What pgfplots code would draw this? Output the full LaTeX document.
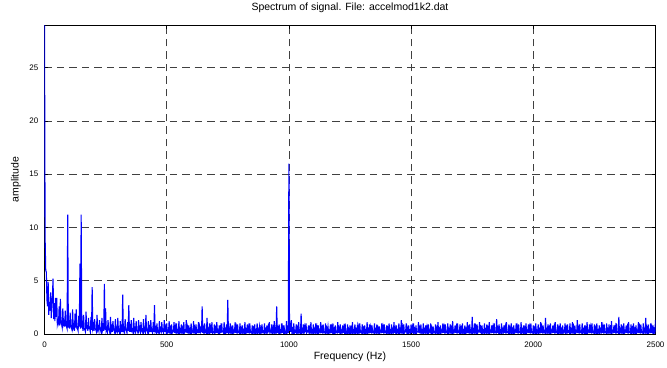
\documentclass[border=0pt]{standalone}
\usepackage{fontspec}
\setmainfont{Liberation Sans}
\usepackage{pgfplots}
\usepackage{pgfplotstable}
\pgfplotsset{compat=1.18}

% Amplitude spectrum, one value per 2.5 Hz bin from 0 Hz to 2500 Hz
% (each line holds 20 bins = 50 Hz)
\pgfplotstableread[row sep=\\, header=false]{
29.0\\ 9.0\\ 6.0\\ 5.8\\ 3.2\\ 2.6\\ 4.9\\ 1.8\\ 3.0\\ 2.2\\ 3.9\\ 1.5\\ 2.7\\ 3.6\\ 5.2\\ 1.4\\ 2.9\\ 1.2\\ 3.4\\ 1.6\\
3.4\\ 0.9\\ 1.2\\ 1.0\\ 2.6\\ 0.8\\ 3.3\\ 1.1\\ 0.9\\ 0.6\\ 2.4\\ 0.9\\ 1.1\\ 0.7\\ 2.2\\ 0.8\\ 0.7\\ 0.5\\ 11.2\\ 0.6\\
1.3\\ 0.5\\ 2.0\\ 0.7\\ 0.6\\ 0.4\\ 2.3\\ 0.6\\ 0.8\\ 0.3\\ 1.9\\ 0.6\\ 2.3\\ 0.5\\ 0.5\\ 0.3\\ 1.7\\ 0.7\\ 6.6\\ 0.5\\
11.2\\ 0.6\\ 0.9\\ 0.3\\ 1.8\\ 0.5\\ 0.4\\ 0.2\\ 2.1\\ 0.6\\ 0.7\\ 0.3\\ 1.5\\ 0.5\\ 0.5\\ 0.2\\ 1.6\\ 0.4\\ 4.4\\ 0.5\\
0.8\\ 0.3\\ 1.4\\ 0.5\\ 0.4\\ 0.2\\ 1.8\\ 0.4\\ 0.6\\ 0.3\\ 1.3\\ 0.5\\ 0.3\\ 0.1\\ 1.5\\ 0.4\\ 0.7\\ 0.3\\ 4.7\\ 0.4\\
2.4\\ 0.3\\ 0.5\\ 0.2\\ 1.3\\ 0.4\\ 0.4\\ 0.1\\ 1.6\\ 0.3\\ 0.6\\ 0.2\\ 1.2\\ 0.4\\ 0.3\\ 0.1\\ 1.4\\ 0.3\\ 0.5\\ 0.2\\
1.5\\ 0.3\\ 0.4\\ 0.1\\ 1.2\\ 0.3\\ 0.6\\ 0.2\\ 3.7\\ 0.3\\ 0.5\\ 0.2\\ 1.4\\ 0.4\\ 0.3\\ 0.1\\ 1.1\\ 0.3\\ 2.7\\ 0.2\\
0.6\\ 0.2\\ 1.3\\ 0.3\\ 0.4\\ 0.1\\ 1.5\\ 0.3\\ 0.5\\ 0.2\\ 1.2\\ 0.3\\ 0.3\\ 0.1\\ 1.3\\ 0.4\\ 0.6\\ 0.2\\ 1.1\\ 0.3\\
0.4\\ 0.1\\ 1.4\\ 0.3\\ 0.5\\ 0.2\\ 1.8\\ 0.3\\ 0.3\\ 0.1\\ 1.2\\ 0.3\\ 0.6\\ 0.2\\ 1.3\\ 0.3\\ 0.4\\ 0.1\\ 1.1\\ 0.2\\
2.7\\ 0.3\\ 0.5\\ 0.1\\ 1.0\\ 0.2\\ 0.3\\ 0.1\\ 1.2\\ 0.3\\ 0.5\\ 0.2\\ 1.1\\ 0.3\\ 0.4\\ 0.1\\ 1.3\\ 0.2\\ 0.6\\ 0.2\\
1.0\\ 0.1\\ 0.3\\ 0.2\\ 1.2\\ 0.05\\ 0.5\\ 0.15\\ 0.9\\ 0.1\\ 0.2\\ 0.2\\ 1.1\\ 0.1\\ 0.6\\ 0.05\\ 1.0\\ 0.15\\ 0.3\\ 0.1\\
1.2\\ 0.1\\ 0.4\\ 0.2\\ 0.9\\ 0.05\\ 0.5\\ 0.15\\ 1.1\\ 0.1\\ 0.2\\ 0.2\\ 1.3\\ 0.1\\ 0.6\\ 0.05\\ 0.8\\ 0.15\\ 0.4\\ 0.1\\
1.0\\ 0.1\\ 0.3\\ 0.2\\ 1.2\\ 0.05\\ 0.5\\ 0.15\\ 0.9\\ 0.1\\ 0.3\\ 0.2\\ 1.1\\ 0.1\\ 0.6\\ 0.05\\ 0.7\\ 0.15\\ 2.6\\ 0.1\\
0.5\\ 0.1\\ 1.0\\ 0.2\\ 0.3\\ 0.05\\ 1.5\\ 0.15\\ 0.4\\ 0.1\\ 1.0\\ 0.2\\ 0.6\\ 0.1\\ 1.1\\ 0.05\\ 0.2\\ 0.15\\ 0.9\\ 0.1\\
0.5\\ 0.1\\ 1.1\\ 0.2\\ 0.3\\ 0.05\\ 0.8\\ 0.15\\ 0.6\\ 0.1\\ 1.0\\ 0.2\\ 0.2\\ 0.1\\ 1.1\\ 0.05\\ 0.4\\ 0.15\\ 0.9\\ 0.1\\
3.2\\ 0.1\\ 0.4\\ 0.2\\ 1.0\\ 0.05\\ 0.5\\ 0.15\\ 0.8\\ 0.1\\ 0.3\\ 0.2\\ 1.1\\ 0.1\\ 0.6\\ 0.05\\ 0.9\\ 0.15\\ 0.2\\ 0.1\\
1.0\\ 0.1\\ 0.5\\ 0.2\\ 0.8\\ 0.05\\ 0.3\\ 0.15\\ 1.1\\ 0.1\\ 0.4\\ 0.2\\ 0.9\\ 0.1\\ 0.6\\ 0.05\\ 1.0\\ 0.15\\ 0.2\\ 0.1\\
0.8\\ 0.1\\ 0.5\\ 0.2\\ 0.9\\ 0.05\\ 0.3\\ 0.15\\ 1.0\\ 0.1\\ 0.4\\ 0.2\\ 0.7\\ 0.1\\ 0.5\\ 0.05\\ 0.9\\ 0.15\\ 0.2\\ 0.1\\
1.0\\ 0.1\\ 0.4\\ 0.2\\ 0.8\\ 0.05\\ 0.6\\ 0.15\\ 1.1\\ 0.1\\ 0.3\\ 0.2\\ 0.9\\ 0.1\\ 0.5\\ 0.05\\ 1.2\\ 0.15\\ 0.4\\ 0.1\\
2.6\\ 0.1\\ 0.5\\ 0.2\\ 0.9\\ 0.05\\ 0.3\\ 0.15\\ 1.0\\ 0.1\\ 0.6\\ 0.2\\ 0.8\\ 0.1\\ 0.2\\ 0.05\\ 1.2\\ 0.15\\ 0.5\\ 0.1\\
16.0\\ 0.3\\ 0.7\\ 0.2\\ 1.3\\ 0.05\\ 0.4\\ 0.15\\ 1.0\\ 0.1\\ 0.3\\ 0.2\\ 0.9\\ 0.1\\ 0.5\\ 0.05\\ 1.1\\ 0.15\\ 0.3\\ 0.1\\
1.9\\ 0.1\\ 0.4\\ 0.2\\ 0.9\\ 0.05\\ 0.6\\ 0.15\\ 1.0\\ 0.1\\ 0.2\\ 0.2\\ 0.8\\ 0.1\\ 0.5\\ 0.05\\ 1.1\\ 0.15\\ 0.3\\ 0.1\\
0.9\\ 0.1\\ 0.4\\ 0.2\\ 1.0\\ 0.05\\ 0.6\\ 0.15\\ 0.8\\ 0.1\\ 0.3\\ 0.2\\ 1.1\\ 0.1\\ 0.5\\ 0.05\\ 0.9\\ 0.15\\ 0.2\\ 0.1\\
1.0\\ 0.1\\ 0.5\\ 0.2\\ 0.7\\ 0.05\\ 0.3\\ 0.15\\ 0.9\\ 0.1\\ 0.6\\ 0.2\\ 1.0\\ 0.1\\ 0.4\\ 0.05\\ 0.8\\ 0.15\\ 0.2\\ 0.1\\
1.1\\ 0.1\\ 0.5\\ 0.2\\ 0.9\\ 0.05\\ 0.3\\ 0.15\\ 0.8\\ 0.1\\ 0.6\\ 0.2\\ 1.0\\ 0.1\\ 0.2\\ 0.05\\ 0.9\\ 0.15\\ 0.4\\ 0.1\\
0.8\\ 0.1\\ 0.5\\ 0.2\\ 1.1\\ 0.05\\ 0.3\\ 0.15\\ 0.9\\ 0.1\\ 0.4\\ 0.2\\ 0.7\\ 0.1\\ 0.6\\ 0.05\\ 1.0\\ 0.15\\ 0.2\\ 0.1\\
0.9\\ 0.1\\ 0.5\\ 0.2\\ 0.8\\ 0.05\\ 0.3\\ 0.15\\ 1.1\\ 0.1\\ 0.4\\ 0.2\\ 0.9\\ 0.1\\ 0.6\\ 0.05\\ 0.8\\ 0.15\\ 0.2\\ 0.1\\
1.0\\ 0.1\\ 0.4\\ 0.2\\ 0.9\\ 0.05\\ 0.5\\ 0.15\\ 0.7\\ 0.1\\ 0.3\\ 0.2\\ 1.0\\ 0.1\\ 0.6\\ 0.05\\ 0.9\\ 0.15\\ 0.2\\ 0.1\\
0.8\\ 0.1\\ 0.5\\ 0.2\\ 1.0\\ 0.05\\ 0.3\\ 0.15\\ 0.9\\ 0.1\\ 0.4\\ 0.2\\ 1.1\\ 0.1\\ 0.5\\ 0.05\\ 0.8\\ 0.15\\ 0.3\\ 0.1\\
1.0\\ 0.1\\ 0.4\\ 0.2\\ 1.3\\ 0.05\\ 0.6\\ 0.15\\ 0.9\\ 0.1\\ 0.2\\ 0.2\\ 1.0\\ 0.1\\ 0.5\\ 0.05\\ 0.8\\ 0.15\\ 0.3\\ 0.1\\
0.9\\ 0.1\\ 0.6\\ 0.2\\ 1.0\\ 0.05\\ 0.4\\ 0.15\\ 0.8\\ 0.1\\ 0.2\\ 0.2\\ 1.1\\ 0.1\\ 0.5\\ 0.05\\ 0.9\\ 0.15\\ 0.3\\ 0.1\\
1.0\\ 0.1\\ 0.4\\ 0.2\\ 0.8\\ 0.05\\ 0.6\\ 0.15\\ 0.9\\ 0.1\\ 0.3\\ 0.2\\ 1.0\\ 0.1\\ 0.5\\ 0.05\\ 0.7\\ 0.15\\ 0.2\\ 0.1\\
0.9\\ 0.1\\ 0.5\\ 0.2\\ 1.1\\ 0.05\\ 0.4\\ 0.15\\ 0.8\\ 0.1\\ 0.3\\ 0.2\\ 1.0\\ 0.1\\ 0.6\\ 0.05\\ 0.9\\ 0.15\\ 0.2\\ 0.1\\
1.0\\ 0.1\\ 0.4\\ 0.2\\ 0.9\\ 0.05\\ 0.5\\ 0.15\\ 1.2\\ 0.1\\ 0.3\\ 0.2\\ 0.8\\ 0.1\\ 0.6\\ 0.05\\ 1.0\\ 0.15\\ 0.2\\ 0.1\\
0.9\\ 0.1\\ 0.5\\ 0.2\\ 1.0\\ 0.05\\ 0.3\\ 0.15\\ 0.8\\ 0.1\\ 0.4\\ 0.2\\ 1.1\\ 0.1\\ 0.5\\ 0.05\\ 0.9\\ 0.15\\ 0.3\\ 0.1\\
1.6\\ 0.1\\ 0.4\\ 0.2\\ 1.0\\ 0.05\\ 0.6\\ 0.15\\ 0.9\\ 0.1\\ 0.2\\ 0.2\\ 1.1\\ 0.1\\ 0.5\\ 0.05\\ 0.8\\ 0.15\\ 0.3\\ 0.1\\
1.0\\ 0.1\\ 0.4\\ 0.2\\ 0.9\\ 0.05\\ 0.5\\ 0.15\\ 1.1\\ 0.1\\ 0.3\\ 0.2\\ 0.8\\ 0.1\\ 0.6\\ 0.05\\ 1.0\\ 0.15\\ 0.2\\ 0.1\\
1.4\\ 0.1\\ 0.5\\ 0.2\\ 0.9\\ 0.05\\ 0.3\\ 0.15\\ 1.0\\ 0.1\\ 0.4\\ 0.2\\ 0.8\\ 0.1\\ 0.6\\ 0.05\\ 1.1\\ 0.15\\ 0.2\\ 0.1\\
0.9\\ 0.1\\ 0.5\\ 0.2\\ 1.0\\ 0.05\\ 0.4\\ 0.15\\ 0.8\\ 0.1\\ 0.3\\ 0.2\\ 1.0\\ 0.1\\ 0.6\\ 0.05\\ 0.9\\ 0.15\\ 0.2\\ 0.1\\
1.1\\ 0.1\\ 0.4\\ 0.2\\ 0.8\\ 0.05\\ 0.5\\ 0.15\\ 1.0\\ 0.1\\ 0.3\\ 0.2\\ 0.9\\ 0.1\\ 0.6\\ 0.05\\ 1.0\\ 0.15\\ 0.2\\ 0.1\\
0.8\\ 0.1\\ 0.5\\ 0.2\\ 1.0\\ 0.05\\ 0.3\\ 0.15\\ 0.9\\ 0.1\\ 0.4\\ 0.2\\ 1.1\\ 0.1\\ 0.6\\ 0.05\\ 0.8\\ 0.15\\ 0.2\\ 0.1\\
1.5\\ 0.1\\ 0.4\\ 0.2\\ 0.9\\ 0.05\\ 0.5\\ 0.15\\ 1.0\\ 0.1\\ 0.3\\ 0.2\\ 0.8\\ 0.1\\ 0.6\\ 0.05\\ 1.1\\ 0.15\\ 0.2\\ 0.1\\
0.9\\ 0.1\\ 0.5\\ 0.2\\ 1.0\\ 0.05\\ 0.4\\ 0.15\\ 0.8\\ 0.1\\ 0.3\\ 0.2\\ 1.0\\ 0.1\\ 0.5\\ 0.05\\ 0.9\\ 0.15\\ 0.2\\ 0.1\\
1.0\\ 0.1\\ 0.4\\ 0.2\\ 1.1\\ 0.05\\ 0.6\\ 0.15\\ 0.8\\ 0.1\\ 0.3\\ 0.2\\ 1.3\\ 0.1\\ 0.5\\ 0.05\\ 0.9\\ 0.15\\ 0.2\\ 0.1\\
1.0\\ 0.1\\ 0.4\\ 0.2\\ 0.8\\ 0.05\\ 0.5\\ 0.15\\ 1.1\\ 0.1\\ 0.3\\ 0.2\\ 0.9\\ 0.1\\ 0.6\\ 0.05\\ 1.0\\ 0.15\\ 0.2\\ 0.1\\
0.9\\ 0.1\\ 0.5\\ 0.2\\ 1.0\\ 0.05\\ 0.3\\ 0.15\\ 0.8\\ 0.1\\ 0.4\\ 0.2\\ 1.1\\ 0.1\\ 0.6\\ 0.05\\ 0.9\\ 0.15\\ 0.2\\ 0.1\\
1.0\\ 0.1\\ 0.4\\ 0.2\\ 0.9\\ 0.05\\ 0.5\\ 0.15\\ 1.2\\ 0.1\\ 0.3\\ 0.2\\ 0.8\\ 0.1\\ 0.6\\ 0.05\\ 1.0\\ 0.15\\ 0.2\\ 0.1\\
1.6\\ 0.1\\ 0.4\\ 0.2\\ 0.9\\ 0.05\\ 0.5\\ 0.15\\ 1.0\\ 0.1\\ 0.3\\ 0.2\\ 0.8\\ 0.1\\ 0.6\\ 0.05\\ 1.1\\ 0.15\\ 0.2\\ 0.1\\
0.9\\ 0.1\\ 0.5\\ 0.2\\ 1.0\\ 0.05\\ 0.4\\ 0.15\\ 0.8\\ 0.1\\ 0.3\\ 0.2\\ 1.1\\ 0.1\\ 0.6\\ 0.05\\ 0.9\\ 0.15\\ 0.2\\ 0.1\\
1.0\\ 0.1\\ 0.4\\ 0.2\\ 1.5\\ 0.05\\ 0.5\\ 0.15\\ 0.9\\ 0.1\\ 0.3\\ 0.2\\ 1.0\\ 0.1\\ 0.6\\ 0.05\\ 0.8\\ 0.15\\ 0.4\\ 0.1\\
1.3\\
}\spectrum

\begin{document}
\begin{tikzpicture}[font=\fontsize{10.5}{12.6}\selectfont]
\useasboundingbox (-44.5pt,-33pt) rectangle (622.5pt,334pt);
\begin{axis}[
  at={(0pt,0pt)}, anchor=south west,
  scale only axis,
  width=611pt, height=309pt,
  xmin=0, xmax=2500,
  ymin=0, ymax=29,
  xtick={0,500,...,2500},
  ytick={0,5,...,25},
  /pgf/number format/assume math mode=true,
  /pgf/number format/1000 sep={},
  tick align=inside,
  tick pos=both,
  major tick length=4pt,
  tick style={black, line width=0.5pt},
  axis line style={black, line width=0.6pt},
  grid=major,
  major grid style={black!75, line width=0.6pt, dash pattern=on 7.5pt off 5pt},
  tick label style={font=\fontsize{8}{9.6}\selectfont},
  xticklabel style={anchor=base, yshift=-13.5pt},
  yticklabel style={anchor=east, inner sep=0pt, xshift=-6pt},
  title={Spectrum of signal. File: accelmod1k2.dat},
  title style={at={(axis description cs:0.5,1)}, anchor=base, yshift=8.3pt},
  xlabel={Frequency (Hz)},
  xlabel style={at={(axis description cs:0.5,0)}, anchor=base, yshift=-25pt},
  ylabel={amplitude},
  ylabel style={at={(axis description cs:0,0.5)}, anchor=center, yshift=28.5pt},
]
\addplot[blue, line width=1.1pt, mark=none] table[x expr=\coordindex*2.5, y index=0] {\spectrum};
\end{axis}
\end{tikzpicture}
\end{document}
